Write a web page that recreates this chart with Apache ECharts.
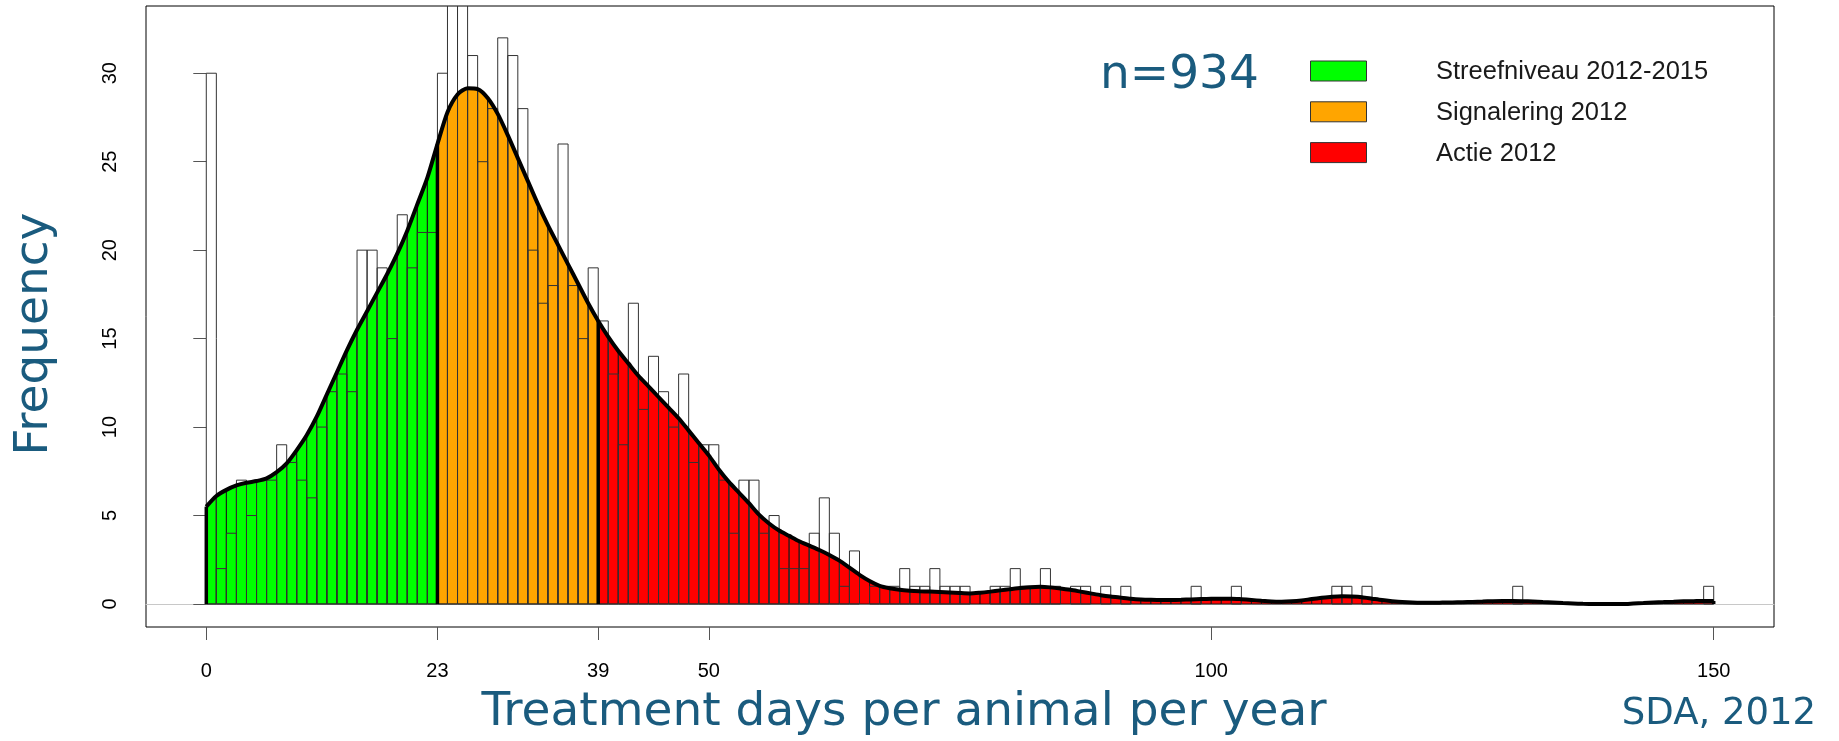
<!DOCTYPE html>
<html><head><meta charset="utf-8">
<script src="https://cdn.jsdelivr.net/npm/echarts@6/dist/echarts.min.js"></script>
<style>html,body{margin:0;padding:0;background:#fff}#c{width:1839px;height:741px}</style>
</head><body><div id="c"></div>
<script>
// ---- data ----
const binWidth = 1;
// frequency per 1-day bin, bins [0,1), [1,2), ... [149,150)
const histCounts = [
  30, 2, 4, 7, 5, 7, 7, 9, 8, 7,
  6, 10, 12, 13, 12, 20, 20, 19, 15, 22,
  19, 21, 21, 30, 35, 34, 31, 25, 28, 32,
  31, 28, 20, 17, 18, 26, 18, 15, 19, 16,
  13, 9, 17, 11, 14, 12, 10, 13, 8, 9,
  9, 7, 4, 7, 7, 4, 5, 2, 2, 2,
  4, 6, 4, 1, 3, 0, 1, 1, 1, 2,
  1, 1, 2, 1, 1, 1, 0, 0, 1, 1,
  2, 1, 1, 2, 1, 0, 1, 1, 0, 1,
  0, 1, 0, 0, 0, 0, 0, 0, 1, 0,
  0, 0, 1, 0, 0, 0, 0, 0, 0, 0,
  0, 0, 1, 1, 0, 1, 0, 0, 0, 0,
  0, 0, 0, 0, 0, 0, 0, 0, 0, 0,
  1, 0, 0, 0, 0, 0, 0, 0, 0, 0,
  0, 0, 0, 0, 0, 0, 0, 0, 0, 1
];
// density curve (scaled to frequency), read at each bin edge 0..150
const densityValues = [
  5.5, 6.1, 6.45, 6.7, 6.85, 6.95, 7.1, 7.45, 7.95, 8.7,
  9.55, 10.6, 11.85, 13.1, 14.35, 15.5, 16.55, 17.6, 18.65, 19.8,
  21.1, 22.6, 24.1, 26.0, 27.8, 28.8, 29.15, 29.1, 28.6, 27.7,
  26.5, 25.2, 23.9, 22.6, 21.4, 20.3, 19.2, 18.1, 17.0, 16.0,
  15.1, 14.3, 13.6, 12.9, 12.3, 11.7, 11.1, 10.5, 9.8, 9.1,
  8.4, 7.6, 6.9, 6.3, 5.7, 5.05, 4.55, 4.15, 3.85, 3.55,
  3.3, 3.05, 2.77, 2.45, 2.05, 1.65, 1.3, 1.03, 0.89, 0.8,
  0.75, 0.72, 0.7, 0.68, 0.65, 0.62, 0.6, 0.64, 0.7, 0.77,
  0.84, 0.9, 0.95, 0.97, 0.94, 0.88, 0.8, 0.7, 0.6, 0.5,
  0.42, 0.36, 0.3, 0.26, 0.24, 0.23, 0.23, 0.24, 0.26, 0.28,
  0.3, 0.3, 0.3, 0.27, 0.23, 0.18, 0.14, 0.13, 0.15, 0.2,
  0.28, 0.35, 0.41, 0.44, 0.42, 0.38, 0.3, 0.22, 0.16, 0.11,
  0.08, 0.07, 0.07, 0.08, 0.09, 0.1, 0.12, 0.14, 0.16, 0.17,
  0.17, 0.16, 0.14, 0.11, 0.08, 0.05, 0.03, 0.01, 0.0, 0.0,
  0.0, 0.0, 0.03, 0.06, 0.09, 0.11, 0.13, 0.15, 0.16, 0.17,
  0.17
];
const zoneBreaks = [0, 23, 39, 150];
const zoneNames = ['Streefniveau 2012-2015', 'Signalering 2012', 'Actie 2012'];
const zoneColors = ['#00ff00', '#ffa500', '#ff0000'];
const xTickValues = [0, 23, 39, 50, 100, 150];
const yTickValues = [0, 5, 10, 15, 20, 25, 30];
const sampleSize = 934;
const xTitle = 'Treatment days per animal per year';
const yTitle = 'Frequency';
const sourceNote = 'SDA, 2012';

// ---- styling ----
const TEAL = '#1a5b7e';
const SANS = '"Liberation Sans", Arial, sans-serif';
const VERD = '"DejaVu Sans", Verdana, sans-serif';

const chart = echarts.init(document.getElementById('c'), null, {renderer: 'canvas'});

function zoneSeries(z) {
  const data = [];
  for (let i = zoneBreaks[z]; i < zoneBreaks[z + 1]; i++) {
    data.push([i * binWidth, densityValues[i], (i + 1) * binWidth, densityValues[i + 1]]);
  }
  return {
    type: 'custom', name: zoneNames[z], z: 2, silent: true, clip: true,
    data: data,
    encode: {x: [0, 2], y: [1, 3]},
    renderItem: function (params, api) {
      const x0 = api.value(0), y0 = api.value(1), x1 = api.value(2), y1 = api.value(3);
      const pts = [api.coord([x0, 0]), api.coord([x0, y0]), api.coord([x1, y1]), api.coord([x1, 0])];
      return {type: 'polygon', shape: {points: pts},
        style: {fill: zoneColors[z], stroke: '#1a1a1a', lineWidth: 1}};
    }
  };
}

const histData = histCounts.map((c, i) => [i * binWidth, c]);
const densData = densityValues.map((v, i) => [i * binWidth, v]);
const breakData = zoneBreaks.map(b => [b, densityValues[b / binWidth]]);

const graphics = [
  {type: 'text', left: 1100, top: 52, style: {text: 'n=' + sampleSize, font: '47px ' + VERD, fill: TEAL}},
  {type: 'text', x: 35, y: 334, rotation: Math.PI / 2,
    style: {text: yTitle, font: '47px ' + VERD, fill: TEAL, align: 'center', verticalAlign: 'middle'}},
  {type: 'text', x: 904, y: 713, style: {text: xTitle, font: '47px ' + VERD, fill: TEAL, align: 'center', verticalAlign: 'middle'}},
  {type: 'text', x: 1719, y: 714, style: {text: sourceNote, font: '37px ' + VERD, fill: TEAL, align: 'center', verticalAlign: 'middle'}}
];
zoneNames.forEach((name, z) => {
  const cy = 71 + 40.8 * z;
  graphics.push({type: 'rect', shape: {x: 1310.5, y: cy - 10, width: 56, height: 20},
    style: {fill: zoneColors[z], stroke: '#333', lineWidth: 1}});
  graphics.push({type: 'text', x: 1436, y: cy + 1,
    style: {text: name, font: '25.5px ' + SANS, fill: '#1a1a1a', verticalAlign: 'middle'}});
});

const option = {
  animation: false,
  backgroundColor: '#fff',
  grid: {left: 146, right: 65, top: 6, bottom: 114, show: true, borderColor: '#000', borderWidth: 1, backgroundColor: 'transparent'},
  xAxis: [
    {type: 'value', min: -6, max: 156, position: 'bottom',
      axisLine: {show: false, onZero: false}, splitLine: {show: false},
      axisTick: {show: true, customValues: xTickValues, length: 13, lineStyle: {color: '#555', width: 1}},
      axisLabel: {customValues: xTickValues, fontSize: 20, fontFamily: SANS, color: '#000', margin: 34}},
    {type: 'value', min: -6, max: 156, position: 'bottom',
      axisLine: {show: true, onZero: true, lineStyle: {color: '#c8c8c8', width: 1}},
      axisTick: {show: false}, axisLabel: {show: false}, splitLine: {show: false}}
  ],
  yAxis: {type: 'value', min: -1.3, max: 33.8,
    axisLine: {show: false}, splitLine: {show: false},
    axisTick: {show: true, customValues: yTickValues, length: 13, lineStyle: {color: '#555', width: 1}},
    axisLabel: {customValues: yTickValues, rotate: 90, fontSize: 20, fontFamily: SANS, color: '#000', margin: 26}},
  graphic: graphics,
  series: [
    zoneSeries(0), zoneSeries(1), zoneSeries(2),
    {type: 'custom', name: 'Frequency', z: 3, silent: true, clip: true,
      data: histData, encode: {x: 0, y: 1},
      renderItem: function (params, api) {
        const x0 = api.value(0), h = api.value(1);
        if (!(h > 0)) return null;
        const p0 = api.coord([x0, 0]);
        const p1 = api.coord([x0 + binWidth, h]);
        return {type: 'rect', shape: {x: p0[0], y: p1[1], width: p1[0] - p0[0], height: p0[1] - p1[1]},
          style: {fill: 'none', stroke: '#333', lineWidth: 1}};
      }},
    {type: 'line', name: 'density', z: 5, silent: true, data: densData,
      showSymbol: false, symbol: 'none', smooth: 0.25,
      lineStyle: {color: '#000', width: 4}},
    {type: 'custom', name: 'breaks', z: 5, silent: true, data: breakData, encode: {x: 0, y: 1},
      renderItem: function (params, api) {
        const b = api.value(0), v = api.value(1);
        const a = api.coord([b, 0]), t = api.coord([b, v]);
        return {type: 'line', shape: {x1: a[0], y1: a[1], x2: t[0], y2: t[1]},
          style: {stroke: '#000', lineWidth: 3.5}};
      }}
  ]
};
chart.setOption(option);
</script></body></html>
